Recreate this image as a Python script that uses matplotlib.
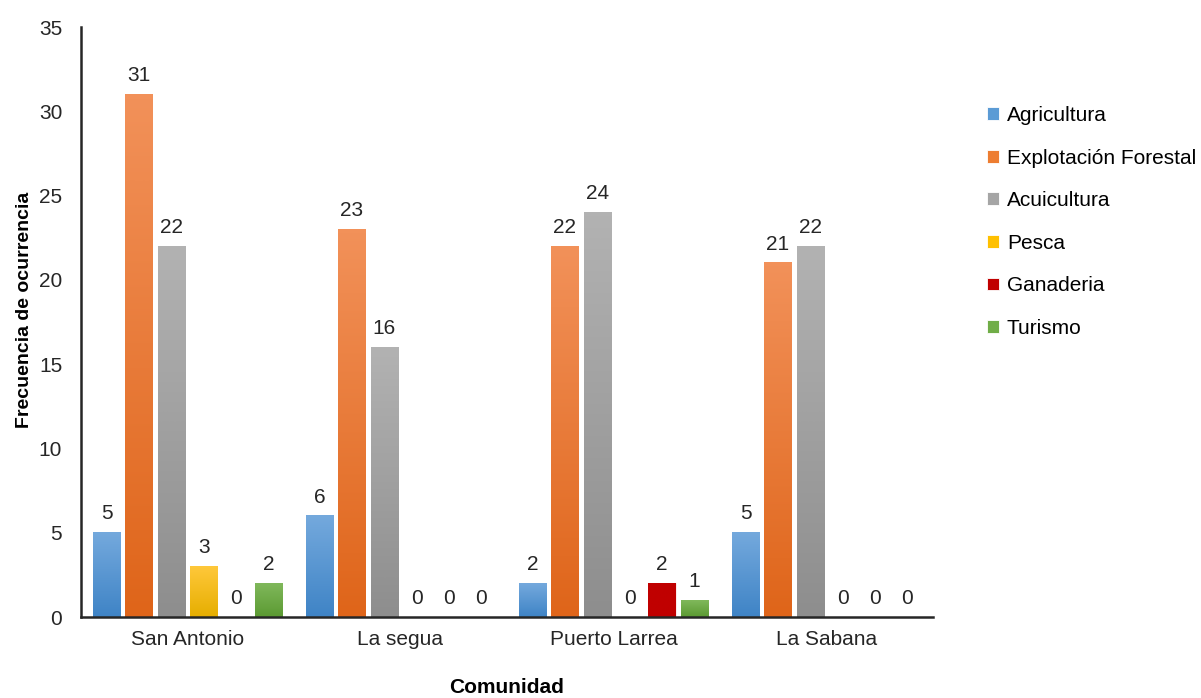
import numpy as np
import matplotlib.pyplot as plt
from matplotlib.colors import LinearSegmentedColormap

plt.rcParams['font.family'] = ['Liberation Sans', 'DejaVu Sans']

# Occurrence counts per community
comunidades = ['San Antonio', 'La segua', 'Puerto Larrea', 'La Sabana']
actividades = ['Agricultura', 'Explotación Forestal', 'Acuicultura',
               'Pesca', 'Ganaderia', 'Turismo']
agricultura = [5, 6, 2, 5]
forestal = [31, 23, 22, 21]
acuicultura = [22, 16, 24, 22]
pesca = [3, 0, 0, 0]
ganaderia = [0, 0, 2, 0]
turismo = [2, 0, 1, 0]
series = [agricultura, forestal, acuicultura, pesca, ganaderia, turismo]

# base colour and (top, bottom) gradient for each activity
base = ['#5b9bd5', '#ed7d31', '#a5a5a5', '#ffc000', '#c00000', '#70ad47']
grad = [('#74a9dd', '#3f84c6'), ('#f29159', '#df651a'), ('#b2b2b2', '#8e8e8e'),
        ('#ffc83a', '#e6ae00'), ('#c00000', '#c00000'), ('#80b85b', '#5b9a32')]

fs = 15

fig = plt.figure(figsize=(12.01, 6.98), dpi=100)
ax = fig.add_axes([0.0674, 0.116, 0.7094, 0.8453])

x = np.arange(len(comunidades))
step = 0.152
width = 0.127
offsets = (np.arange(len(series)) - 2.5) * step

grad_img = np.linspace(0, 1, 64).reshape(-1, 1)
for i, vals in enumerate(series):
    bars = ax.bar(x + offsets[i], vals, width, color=base[i], label=actividades[i],
                  edgecolor='white', linewidth=0.6, zorder=2)
    cmap = LinearSegmentedColormap.from_list('g%d' % i, [grad[i][0], grad[i][1]])
    for b, v in zip(bars, vals):
        if v > 0:
            ax.imshow(grad_img, cmap=cmap, aspect='auto', zorder=2.5,
                      extent=[b.get_x(), b.get_x() + b.get_width(), 0, v],
                      origin='upper', interpolation='bicubic')
        ax.text(b.get_x() + b.get_width() / 2, v + 0.55, str(v),
                ha='center', va='bottom', fontsize=fs, color='#262626')

ax.set_xlim(-0.5, len(comunidades) - 0.5)
ax.set_ylim(0, 35)
ax.set_yticks(range(0, 36, 5))
ax.set_xticks(x)
ax.set_xticklabels(comunidades)
ax.tick_params(axis='both', length=0, labelsize=fs, colors='#262626')
ax.tick_params(axis='x', pad=9)
ax.tick_params(axis='y', pad=13.5)

for s in ['top', 'right']:
    ax.spines[s].set_visible(False)
for s in ['left', 'bottom']:
    ax.spines[s].set_linewidth(1.8)
    ax.spines[s].set_color('#262626')

ax.set_ylabel('Frecuencia de ocurrencia', fontsize=14, fontweight='bold')
ax.yaxis.set_label_coords(-0.056, 0.52)
ax.set_xlabel('Comunidad', fontsize=fs, fontweight='bold')
ax.xaxis.set_label_coords(0.5, -0.103)

fig.legend(loc='upper left', bbox_to_anchor=(0.815, 0.86), frameon=False,
           fontsize=fs, handlelength=0.55, handleheight=0.55, handletextpad=0.4,
           labelspacing=1.13, borderaxespad=0)

fig.savefig('out.png', dpi=100)
